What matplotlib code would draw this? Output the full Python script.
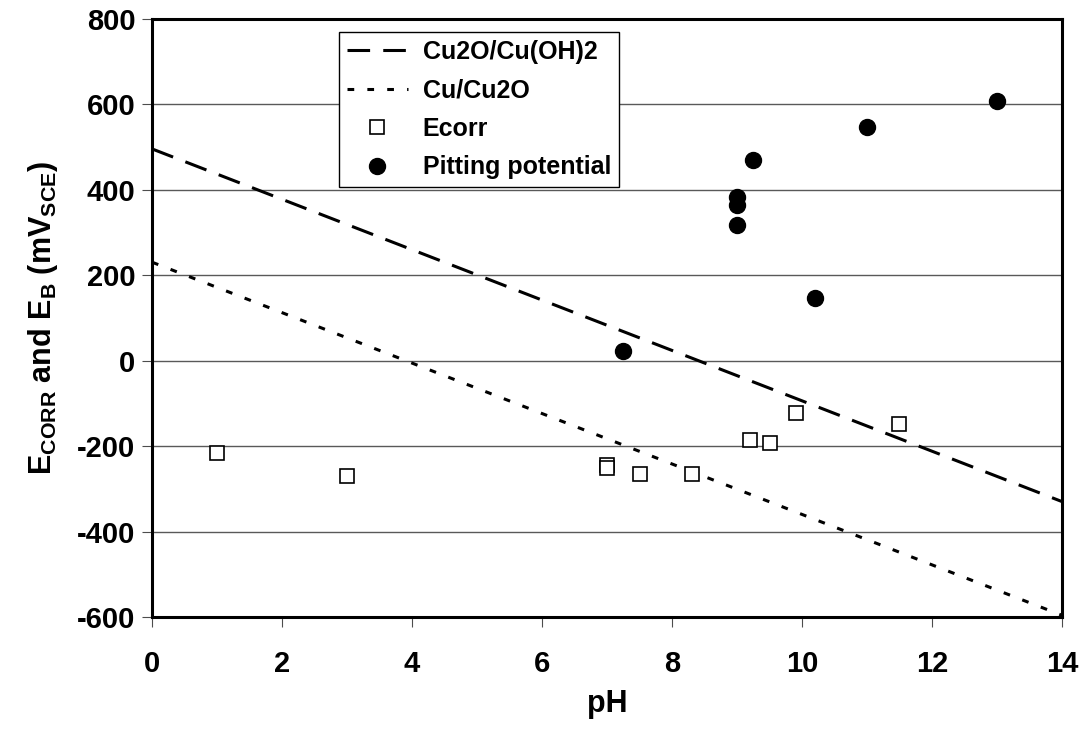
import numpy as np
import matplotlib
matplotlib.use('Agg')
import matplotlib.pyplot as plt

plt.rcParams['font.family'] = ['Liberation Sans', 'DejaVu Sans']
plt.rcParams['mathtext.default'] = 'regular'
plt.rcParams['axes.unicode_minus'] = False

# equilibrium lines (pH, mV SCE)
ph_line = [0, 14]
e_cu2o_cuoh2 = [495, -330]
e_cu_cu2o = [230, -596]

# corrosion potential
ph_ecorr = [1.0, 3.0, 7.0, 7.0, 7.5, 8.3, 9.2, 9.5, 9.9, 11.5]
ecorr = [-216, -269, -245, -251, -265, -265, -186, -194, -123, -149]

# pitting potential
ph_pit = [7.25, 9.0, 9.0, 9.0, 9.25, 10.2, 11.0, 13.0]
epit = [23, 318, 363, 383, 468, 146, 547, 606]

fig = plt.figure(figsize=(10.85, 7.4), dpi=100)
ax = fig.add_axes([0.1401, 0.1662, 0.8387, 0.8088])

ax.plot(ph_line, e_cu2o_cuoh2, color='black', lw=2.2, linestyle=(0, (7.4, 4.3)),
        label='Cu2O/Cu(OH)2', zorder=3)
ax.plot(ph_line, e_cu_cu2o, color='black', lw=2.2, linestyle=(0, (2.2, 4.3)),
        label='Cu/Cu2O', zorder=3)
ax.plot(ph_ecorr, ecorr, linestyle='none', marker='s', ms=10.5, mfc='white',
        mec='black', mew=1.2, label='Ecorr', zorder=4)
ax.plot(ph_pit, epit, linestyle='none', marker='o', ms=11.5, mfc='black',
        mec='black', label='Pitting potential', zorder=4)

ax.set_xlim(0, 14)
ax.set_ylim(-600, 800)
ax.set_xticks(np.arange(0, 15, 2))
ax.set_yticks(np.arange(-600, 801, 200))
ax.yaxis.grid(True, color='0.35', lw=1.0)
ax.set_axisbelow(True)

for s in ax.spines.values():
    s.set_linewidth(2.2)
    s.set_color('black')

ax.tick_params(axis='both', direction='out', length=7, width=0.8, color='0.3',
               labelsize=21)
ax.tick_params(axis='x', pad=17)
ax.tick_params(axis='y', pad=5)
for lab in ax.get_xticklabels() + ax.get_yticklabels():
    lab.set_fontweight('bold')

ax.set_xlabel('pH', fontsize=22, fontweight='bold', labelpad=8)
ax.set_ylabel('E$_{CORR}$ and E$_{B}$ (mV$_{SCE}$)', fontsize=22,
              fontweight='bold', labelpad=12)

leg = ax.legend(loc='upper left', bbox_to_anchor=(0.2055, 0.977),
                borderaxespad=0, prop={'weight': 'bold', 'size': 18},
                frameon=True, fancybox=False, framealpha=1, edgecolor='black',
                handlelength=2.45, handletextpad=0.6, borderpad=0.3,
                labelspacing=0.58)
leg.get_frame().set_linewidth(1.0)

fig.savefig('out.png', dpi=100)
